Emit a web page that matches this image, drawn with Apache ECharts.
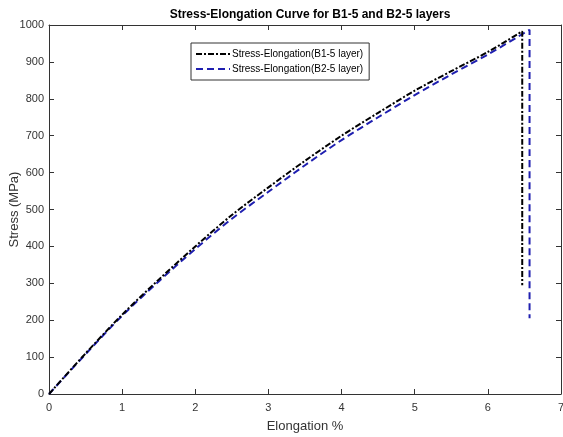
<!DOCTYPE html>
<html>
<head>
<meta charset="utf-8">
<script src="https://cdn.jsdelivr.net/npm/echarts@6/dist/echarts.min.js"></script>
<style>
  html, body { margin: 0; padding: 0; background: #fff; }
  #chart { width: 563px; height: 437px; }
</style>
</head>
<body>
<div id="chart"></div>
<script>
// B1-5 layer (black dash-dot)
const b1Elong = [0, 0.5, 1, 1.5, 2, 2.5, 3, 3.5, 4, 4.5, 5, 5.5, 6, 6.47, 6.47];
const b1Stress = [0, 110, 215, 310, 400, 485, 560, 632, 700, 762, 822, 875, 927, 983, 295];

// B2-5 layer (blue dashed)
const b2Elong = [0, 0.5, 1, 1.5, 2, 2.5, 3, 3.5, 4, 4.5, 5, 5.5, 6, 6.57, 6.57];
const b2Stress = [0, 108, 212, 305, 393, 475, 548, 620, 688, 750, 810, 866, 920, 987, 205];

const seriesNames = ["Stress-Elongation(B1-5 layer)", "Stress-Elongation(B2-5 layer)"];

const pairs = (xs, ys) => xs.map((x, i) => [x, ys[i]]);

const font = "Liberation Sans, Arial, sans-serif";
const axisCol = "#333";

const chart = echarts.init(document.getElementById("chart"));

const boxAxis = {
  axisLine: { show: true, onZero: false, lineStyle: { color: axisCol, width: 1 } },
  axisTick: { show: true, inside: true, length: 5, lineStyle: { color: axisCol } },
  splitLine: { show: false },
};

chart.setOption({
  animation: false,
  title: {
    text: "Stress-Elongation Curve for B1-5 and B2-5 layers",
    left: 305,
    textAlign: "center",
    top: 4,
    textStyle: { fontFamily: font, fontSize: 12, fontWeight: "bold", color: "#000" },
  },
  legend: {
    left: 191,
    top: 43,
    orient: "vertical",
    itemWidth: 34,
    itemHeight: 10,
    itemGap: 5,
    padding: [6, 6, 6, 4],
    borderColor: "#333",
    borderWidth: 1,
    backgroundColor: "#fff",
    textStyle: { fontFamily: font, fontSize: 10, color: "#000", padding: [0, 0, 0, -3] },
    data: seriesNames.map((n) => ({ name: n, itemStyle: { opacity: 0 } })),
  },
  grid: { left: 49, right: 2, top: 25, bottom: 43, outerBoundsMode: "none", containLabel: false },
  xAxis: [
    Object.assign({}, boxAxis, {
      type: "value",
      min: 0,
      max: 7,
      interval: 1,
      name: "Elongation %",
      nameLocation: "middle",
      nameGap: 26,
      nameMoveOverlap: false,
      nameTextStyle: { fontFamily: font, fontSize: 13, color: axisCol },
      axisLabel: { fontFamily: font, fontSize: 11, color: axisCol, margin: 8 },
    }),
    Object.assign({}, boxAxis, {
      type: "value",
      position: "top",
      min: 0,
      max: 7,
      interval: 1,
      axisLabel: { show: false },
    }),
  ],
  yAxis: [
    Object.assign({}, boxAxis, {
      type: "value",
      min: 0,
      max: 1000,
      interval: 100,
      name: "Stress (MPa)",
      nameLocation: "middle",
      nameGap: 28,
      nameMoveOverlap: false,
      nameTextStyle: { fontFamily: font, fontSize: 13, color: axisCol },
      axisLabel: { fontFamily: font, fontSize: 11, color: axisCol, margin: 5, formatter: (v) => String(v) },
    }),
    Object.assign({}, boxAxis, {
      type: "value",
      position: "right",
      min: 0,
      max: 1000,
      interval: 100,
      axisLabel: { show: false },
    }),
  ],
  series: [
    {
      name: seriesNames[0],
      type: "line",
      data: pairs(b1Elong, b1Stress),
      smooth: 0.3,
      showSymbol: false,
      symbol: "none",
      z: 3,
      itemStyle: { color: "#000" },
      lineStyle: { color: "#000", width: 2, type: [6, 2, 2, 2] },
    },
    {
      name: seriesNames[1],
      type: "line",
      data: pairs(b2Elong, b2Stress),
      smooth: 0.3,
      showSymbol: false,
      symbol: "none",
      z: 2,
      itemStyle: { color: "#1f1fb0" },
      lineStyle: { color: "#1f1fb0", width: 2, type: [7, 4] },
    },
  ],
});
</script>
</body>
</html>
